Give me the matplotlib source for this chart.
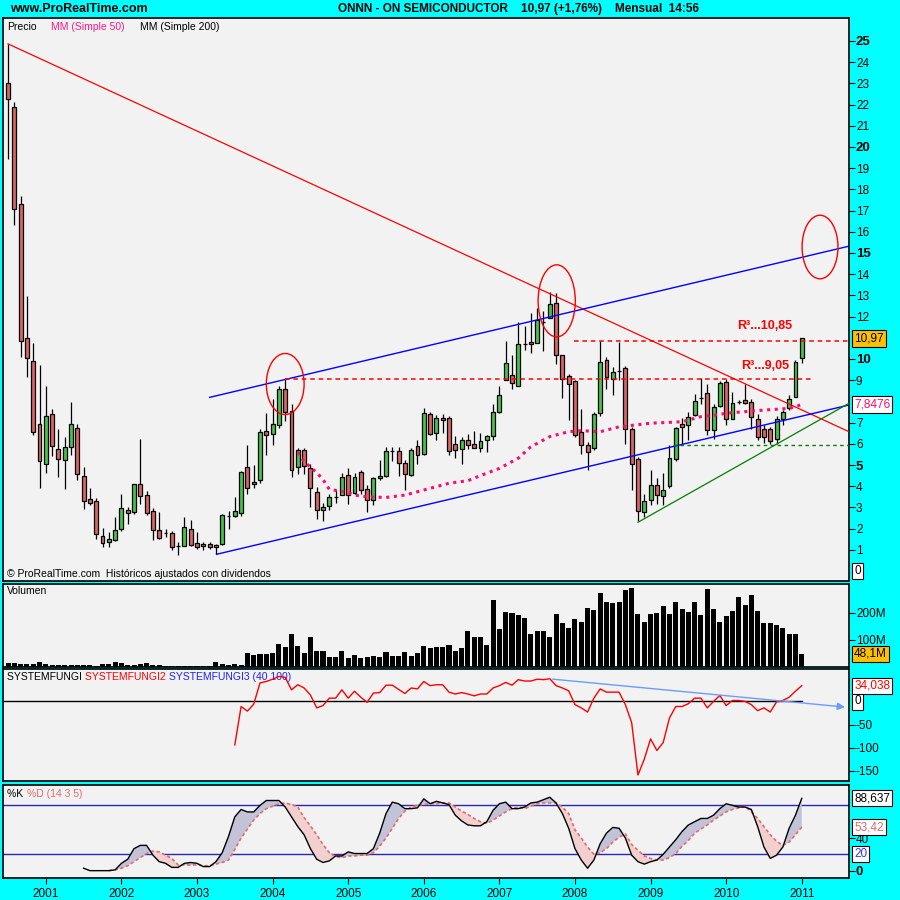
import matplotlib
matplotlib.use("Agg")
from matplotlib import pyplot as plt
from matplotlib.patches import Ellipse
import numpy as np

plt.rcParams["font.family"] = ["Liberation Sans", "DejaVu Sans"]

# ---- monthly candles, Jul 2000 .. Jan 2011 (index 0 = Jul 2000) ----
opens = [23.0, 21.87, 17.3, 10.97, 9.9, 6.92, 5.03, 7.39, 5.74, 5.22,
         5.85, 6.73, 4.47, 3.38, 3.29, 1.64, 1.35, 1.45, 1.97, 2.86,
         2.77, 4.09, 3.57, 2.82, 1.92, 1.78, 1.78, 1.16, 1.16, 1.97,
         1.31, 1.16, 1.26, 1.12, 1.26, 2.58, 2.58, 2.72, 4.89, 4.09,
         4.28, 6.59, 6.45, 6.87, 8.57, 7.53, 4.89, 5.69, 4.84, 3.71,
         2.86, 3.05, 3.5, 3.57, 4.52, 3.67, 4.66, 3.85, 3.33, 4.37,
         4.47, 5.65, 5.65, 5.08, 4.51, 5.88, 5.5, 7.39, 6.5, 7.2,
         7.2, 5.98, 5.74, 6.2, 5.98, 5.79, 6.16, 6.35, 7.49, 9.0,
         9.23, 8.71, 10.69, 10.78, 10.74, 11.73, 11.92, 12.63, 10.17, 9.18,
         8.95, 6.54, 5.93, 5.79, 7.44, 9.94, 9.04, 9.41, 9.56, 6.68,
         5.27, 2.77, 3.33, 4.04, 3.52, 4.0, 5.27, 6.92, 6.87, 7.34,
         8.16, 8.38, 6.64, 7.77, 8.9, 7.16, 7.96, 8.05, 7.96, 7.16,
         6.68, 6.68, 6.21, 7.16, 7.67, 8.19, 10.03]
highs = [24.86, 22.12, 17.69, 12.97, 10.74, 9.72, 8.73, 7.64, 6.68, 6.33,
         7.97, 6.92, 4.89, 3.9, 3.43, 2.01, 1.83, 2.53, 3.62, 3.0,
         4.12, 6.23, 3.76, 2.96, 2.77, 1.97, 1.87, 1.35, 2.53, 2.39,
         1.83, 1.35, 1.35, 1.26, 2.68, 2.82, 3.48, 4.7, 5.93, 4.98,
         6.68, 7.44, 8.1, 8.71, 9.04, 7.86, 5.79, 5.79, 5.03, 3.95,
         3.2, 3.62, 3.8, 4.61, 4.84, 4.61, 4.75, 4.04, 4.42, 5.22,
         5.84, 5.84, 5.84, 5.22, 5.79, 6.2, 7.69, 7.48, 7.34, 7.39,
         7.3, 6.36, 6.3, 6.45, 6.6, 6.5, 6.4, 7.86, 8.71, 10.83,
         10.2, 11.73, 11.54, 12.16, 12.4, 12.26, 13.15, 13.1, 10.2, 9.27,
         9.0, 7.64, 6.1, 7.5, 10.83, 10.1, 9.6, 10.8, 9.65, 6.8,
         5.4, 3.62, 4.75, 4.4, 4.61, 5.96, 6.8, 7.2, 7.5, 8.33,
         9.1, 8.8, 7.9, 8.98, 9.04, 8.44, 8.05, 8.8, 8.1, 7.4,
         6.9, 6.8, 7.3, 7.6, 8.3, 9.94, 11.0]
lows = [19.45, 16.3, 10.1, 9.13, 6.42, 3.9, 4.64, 5.42, 4.45, 3.85,
        5.47, 4.29, 2.91, 3.1, 1.5, 1.12, 1.15, 1.4, 1.87, 2.2,
        2.7, 3.15, 2.63, 1.45, 1.5, 1.59, 0.98, 0.74, 1.16, 1.16,
        1.03, 0.98, 1.03, 0.79, 1.21, 1.97, 2.53, 2.58, 3.62, 3.9,
        4.14, 5.46, 5.93, 6.73, 7.07, 4.42, 4.56, 4.56, 3.03, 2.45,
        2.34, 2.86, 3.2, 3.57, 3.14, 3.62, 3.62, 2.77, 3.1, 4.28,
        4.42, 5.2, 4.47, 3.81, 4.47, 5.03, 5.46, 6.4, 6.2, 6.5,
        5.46, 5.31, 5.03, 5.74, 5.79, 5.6, 5.6, 6.16, 7.44, 9.0,
        8.58, 8.71, 10.4, 10.3, 10.74, 10.36, 11.92, 9.75, 8.15, 7.11,
        6.3, 5.5, 4.75, 5.7, 7.3, 8.58, 8.3, 9.0, 6.0, 3.8,
        2.35, 2.53, 3.1, 3.14, 3.1, 3.9, 5.2, 6.0, 6.2, 7.3,
        7.86, 6.4, 6.21, 7.72, 6.87, 7.16, 7.87, 7.87, 6.7, 6.2,
        6.03, 5.98, 6.0, 6.9, 7.6, 8.19, 9.8]
closes = [22.25, 17.06, 10.83, 10.03, 6.54, 5.17, 7.3, 5.91, 5.27, 5.85,
          6.92, 4.56, 3.29, 3.19, 1.73, 1.31, 1.5, 1.92, 2.96, 2.72,
          4.09, 3.52, 2.72, 1.92, 1.54, 1.78, 1.12, 1.16, 2.06, 1.21,
          1.12, 1.26, 1.12, 1.21, 2.63, 2.58, 2.82, 4.66, 3.9, 4.18,
          6.54, 6.4, 6.92, 8.57, 7.49, 4.75, 5.69, 4.94, 3.9, 2.86,
          3.0, 3.48, 3.5, 4.42, 3.57, 4.42, 3.81, 3.33, 4.37, 4.47,
          5.65, 5.65, 5.08, 4.56, 5.69, 5.46, 7.44, 6.45, 7.2, 7.11,
          5.65, 5.69, 6.2, 5.93, 5.79, 6.13, 6.35, 7.49, 8.29, 9.8,
          8.85, 10.69, 10.69, 10.69, 11.82, 11.73, 12.58, 10.17, 9.04, 8.81,
          6.40, 5.93, 5.6, 7.39, 9.84, 9.14, 9.37, 9.41, 6.68, 5.03,
          2.82, 3.29, 4.04, 3.57, 3.81, 5.32, 6.73, 6.78, 7.25, 8.0,
          8.16, 6.64, 7.72, 8.85, 7.16, 7.91, 7.96, 7.91, 7.25, 6.31,
          6.31, 6.12, 7.16, 7.49, 8.1, 9.84, 10.97]

# volume in millions
volume_m = [16, 16, 12, 12, 12, 20, 12, 7, 7, 7,
            8, 8, 8, 8, 4, 12, 12, 20, 16, 8,
            8, 12, 16, 8, 7, 4, 4, 4, 4, 4,
            4, 4, 4, 20, 12, 8, 12, 8, 53, 45,
            49, 49, 53, 86, 72, 120, 79, 53, 109, 60,
            60, 38, 38, 60, 34, 45, 34, 38, 41, 38,
            56, 41, 41, 56, 41, 53, 79, 68, 75, 75,
            80, 60, 68, 131, 112, 112, 82, 246, 138, 201,
            197, 190, 179, 120, 131, 131, 112, 193, 160, 145,
            175, 164, 216, 208, 271, 238, 234, 238, 283, 290,
            193, 164, 193, 197, 223, 193, 238, 212, 201, 238,
            190, 286, 212, 164, 186, 205, 257, 227, 264, 205,
            160, 160, 153, 142, 120, 123, 48.1]

# MM (Simple 50)
ma_months = [46, 47, 49, 50, 51, 54, 55, 57, 60, 63, 65, 68, 70, 73, 75,
             78, 81, 83, 86, 89, 91, 94, 97, 102, 107, 110, 115, 120, 124, 126]
ma_values = [5.6, 5.16, 4.64, 4.32, 3.85, 3.71, 3.58, 3.5, 3.47, 3.58, 3.74,
             3.98, 4.14, 4.26, 4.5, 4.84, 5.32, 5.86, 6.34, 6.57, 6.62, 6.57,
             6.8, 6.97, 7.04, 7.28, 7.47, 7.59, 7.67, 7.85]

# SYSTEMFUNGI2, from month 36
sf_start = 36
sf2 = [-94, -11, -21, -6, 40, 43, 48, 54, 52, 25,
       36, 29, 14, -14, -9, 7, 7, 25, 7, 22,
       9, -2, 18, 19, 35, 35, 26, 17, 29, 27,
       43, 34, 36, 36, 20, 16, 19, 16, 12, 16,
       16, 29, 34, 41, 35, 47, 44, 44, 48, 47,
       49, 34, 29, 23, -7, -14, -23, 7, 27, 20,
       20, 20, -7, -46, -159, -125, -81, -106, -89, -36,
       -11, -11, -5, 7, 7, -14, 0, 13, -9, 2,
       2, 0, -7, -20, -14, -23, -1, 2, 9, 22, 34.04]

# stochastic %K (from month 12) and %D (from month 16)
k_start = 12
pct_k = [3, 0, 0, 0, 0, 1, 9, 14, 27, 31,
         31, 19, 11, 9, 4, 4, 9, 10, 9, 5,
         5, 11, 22, 42, 66, 75, 72, 72, 80, 86,
         86, 86, 78, 66, 54, 44, 27, 14, 10, 12,
         18, 18, 23, 21, 21, 21, 27, 46, 70, 84,
         82, 76, 76, 77, 88, 82, 85, 83, 81, 68,
         61, 56, 55, 55, 60, 74, 82, 84, 76, 76,
         78, 83, 84, 87, 90, 83, 70, 52, 27, 13,
         3, 13, 33, 46, 53, 52, 40, 19, 11, 8,
         11, 13, 20, 29, 38, 48, 56, 60, 64, 64,
         68, 76, 82, 80, 78, 78, 75, 54, 29, 15,
         19, 29, 52, 68, 88.64]
d_start = 16
pct_d = [0, 1, 3, 6, 11, 16, 21, 24, 23, 19,
         15, 7, 7, 7, 7, 6, 6, 8, 10, 13,
         26, 40, 51, 62, 70, 76, 79, 82, 83, 81,
         78, 65, 55, 44, 32, 22, 17, 16, 18, 18,
         19, 19, 22, 30, 40, 52, 64, 73, 78, 80,
         81, 82, 82, 83, 83, 78, 73, 69, 64, 60,
         58, 62, 67, 72, 76, 78, 76, 79, 82, 83,
         83, 83, 78, 70, 50, 40, 29, 20, 22, 27,
         35, 41, 45, 32, 25, 18, 15, 13, 13, 16,
         21, 30, 37, 46, 51, 56, 62, 67, 72, 75,
         77, 79, 72, 64, 54, 44, 36, 31, 35, 44, 53.42]

years = ["2001", "2002", "2003", "2004", "2005", "2006",
         "2007", "2008", "2009", "2010", "2011"]
year_months = [6, 18, 30, 42, 54, 66, 78, 90, 102, 114, 126]

# drawn lines: (month0, price0, month1, price1)
red_trend = (0, 24.86, 133.5, 6.57)
blue_top = (32, 8.19, 133.5, 15.32)
blue_low = (33.1, 0.79, 133.5, 7.83)
green_trend = (100, 2.3, 133.5, 7.91)
sf3_arrow = (86, 48.7, 133.3, -12.8)

BG = "#00ffff"
FACE = "#f2f2f2"
UP = "#46c646"
DOWN = "#dc6464"
XL = (-0.8, 133.5)

fig = plt.figure(figsize=(9, 9), dpi=100, facecolor=BG)


def rect(top, bottom):
    return [3 / 900, 1 - bottom / 900, 846 / 900, (bottom - top) / 900]


def style(ax):
    ax.set_facecolor(FACE)
    ax.set_xlim(*XL)
    for s in ax.spines.values():
        s.set_linewidth(1.2)
    ax.yaxis.tick_right()
    ax.tick_params(axis="y", direction="out", length=4, width=0.8,
                   labelsize=8.5, pad=1)
    ax.set_xticks([])


def box(ax, y, s, fc="white", tc="black", z=10):
    ax.text(1.006, y, s, transform=ax.get_yaxis_transform(), ha="left",
            va="center", fontsize=8.5, color=tc, clip_on=False, zorder=z,
            bbox=dict(boxstyle="square,pad=0.18", fc=fc, ec="black", lw=0.8))


idx = np.arange(len(closes))
o = np.array(opens)
c = np.array(closes)

# ---------------- price ----------------
ax = fig.add_axes(rect(18, 581))
style(ax)
ax.set_ylim(-0.47, 26.08)
ax.vlines(idx, lows, highs, color="black", lw=0.9, zorder=3)
cols = np.where(c > o, UP, np.where(c < o, DOWN, "black"))
ax.bar(idx, np.abs(c - o), bottom=np.minimum(o, c), width=0.62,
       color=cols, edgecolor="black", linewidth=0.9, zorder=4)

ax.plot(red_trend[::2], red_trend[1::2], color="red", lw=0.9, zorder=5)
ax.plot(blue_top[::2], blue_top[1::2], color="#0000ff", lw=1, zorder=5)
ax.plot(blue_low[::2], blue_low[1::2], color="#0000ff", lw=1, zorder=5)
ax.plot(green_trend[::2], green_trend[1::2], color="#008000", lw=0.9, zorder=5)
ax.plot([44, 128], [9.05, 9.05], color="red", lw=1.1, ls=(0, (3, 2.5)), zorder=5)
ax.plot([89.8, 133.5], [10.85, 10.85], color="red", lw=1.1, ls=(0, (3, 2.5)), zorder=5)
ax.plot([105.6, 133.5], [5.95, 5.95], color="#008000", lw=1, ls=(0, (2.5, 2.5)), zorder=5)
ax.plot(ma_months, ma_values, color="#ff0a6c", lw=2.2, ls=(0, (1, 1.5)), zorder=6)

for cx, cy, w, h in [(44.0, 8.82, 6.0, 2.88), (87.1, 12.74, 5.9, 3.4),
                     (128.9, 15.28, 5.7, 3.0)]:
    ax.add_patch(Ellipse((cx, cy), w, h, fill=False, ec="red", lw=1, zorder=6))

ax.text(115.8, 11.4, "R³...10,85", color="red", fontsize=9,
        fontweight="bold", zorder=7)
ax.text(116.4, 9.55, "R³...9,05", color="red", fontsize=9,
        fontweight="bold", zorder=7)

# 8 and 11 sit under the value boxes, as in the source
ticks = [t for t in range(1, 26) if t not in (8, 11)]
ax.set_yticks(ticks)
ax.set_yticklabels([str(t) for t in ticks])
for lab, t in zip(ax.get_yticklabels(), ticks):
    if t % 5 == 0:
        lab.set_fontweight("bold")
        lab.set_fontsize(9.5)
box(ax, 0, "0")
box(ax, closes[-1], "10,97", fc="#ffc000")
box(ax, ma_values[-1], "7,8476", tc="#ff0a6c")

ax.text(0.005, 0.993, "Precio", transform=ax.transAxes, fontsize=7.5, va="top")
ax.text(0.057, 0.993, "MM (Simple 50)", transform=ax.transAxes, fontsize=7.5,
        va="top", color="#ff1a8c")
ax.text(0.162, 0.993, "MM (Simple 200)", transform=ax.transAxes, fontsize=7.5,
        va="top")
ax.text(0.005, 0.004, "© ProRealTime.com  Históricos ajustados con dividendos",
        transform=ax.transAxes, fontsize=7.5, va="bottom")

# ---------------- volume ----------------
av = fig.add_axes(rect(584, 667))
style(av)
av.set_ylim(0, 305)
av.bar(idx, volume_m, width=0.8, color="black", zorder=3)
av.set_yticks([100, 200])
av.set_yticklabels(["100M", "200M"])
box(av, volume_m[-1], "48,1M", fc="#ffc000")
av.text(0.005, 0.97, "Volumen", transform=av.transAxes, fontsize=7.5, va="top")

# ---------------- SYSTEMFUNGI ----------------
asf = fig.add_axes(rect(669, 781))
style(asf)
asf.set_ylim(-172, 70)
asf.plot([XL[0], 126], [0, 0], color="black", lw=1, zorder=3)
asf.plot(np.arange(sf_start, sf_start + len(sf2)), sf2, color="red", lw=1, zorder=4)
asf.annotate("", xy=sf3_arrow[2:], xytext=sf3_arrow[:2],
             arrowprops=dict(arrowstyle="-|>", color="#6a9cff", lw=1,
                             mutation_scale=11), zorder=5)
asf.set_yticks([-150, -100, -50])
asf.set_yticklabels(["-150", "-100", "-50"])
box(asf, 0, "0")
box(asf, 34.04, "34,038", tc="red", z=10)
t = asf.text(0.005, 0.97, "SYSTEMFUNGI ", transform=asf.transAxes,
             fontsize=7.5, va="top")
t2 = asf.annotate("SYSTEMFUNGI2 ", xycoords=t, xy=(1, 0), va="bottom",
                  fontsize=7.5, color="red")
asf.annotate("SYSTEMFUNGI3 (40 100)", xycoords=t2, xy=(1, 0), va="bottom",
             fontsize=7.5, color="#2020ff")

# ---------------- stochastic ----------------
ast = fig.add_axes(rect(785, 878))
style(ast)
ast.set_ylim(-9, 105)
ast.axhline(80, color="#2828b4", lw=1, zorder=2)
ast.axhline(20, color="#2828b4", lw=1, zorder=2)
kx = np.arange(k_start, k_start + len(pct_k))
dx = np.arange(d_start, d_start + len(pct_d))
kk = np.array(pct_k)[d_start - k_start:]
dd = np.array(pct_d)
ast.fill_between(dx, kk, dd, where=kk >= dd, interpolate=True,
                 color="#c3c3d8", lw=0, zorder=3)
ast.fill_between(dx, kk, dd, where=kk < dd, interpolate=True,
                 color="#f2d0d0", lw=0, zorder=3)
ast.plot(kx, pct_k, color="black", lw=1, zorder=5)
ast.plot(dx, pct_d, color="#e06c6c", lw=1.2, ls=(0, (2, 1.5)), zorder=4)
ast.set_yticks([0, 40])
ast.set_yticklabels(["0", "40"])
for lab in ast.get_yticklabels():
    if lab.get_text() == "0":
        lab.set_fontweight("bold")
        lab.set_fontsize(9.5)
box(ast, 20, "20", tc="#3030ff")
box(ast, pct_d[-1], "53,42", tc="#e06c6c")
box(ast, pct_k[-1], "88,637")
ast.set_xticks(year_months)
ast.set_xticklabels(years)
ast.tick_params(axis="x", direction="out", length=4, width=0.8,
                labelsize=8.5, pad=3)
ast.text(0.005, 0.96, "%K ", transform=ast.transAxes, fontsize=7.5, va="top")
ast.text(0.028, 0.96, "%D (14 3 5)", transform=ast.transAxes, fontsize=7.5,
         va="top", color="#e06c6c")

# ---------------- header ----------------
fig.text(10 / 900, 1 - 9 / 900, "www.ProRealTime.com", fontsize=9,
         fontweight="bold", va="center")
fig.text(338 / 900, 1 - 9 / 900,
         "ONNN - ON SEMICONDUCTOR    10,97 (+1,76%)    Mensual  14:56",
         fontsize=8.5, fontweight="bold", va="center")

fig.savefig("out.png", dpi=100, facecolor=BG)
